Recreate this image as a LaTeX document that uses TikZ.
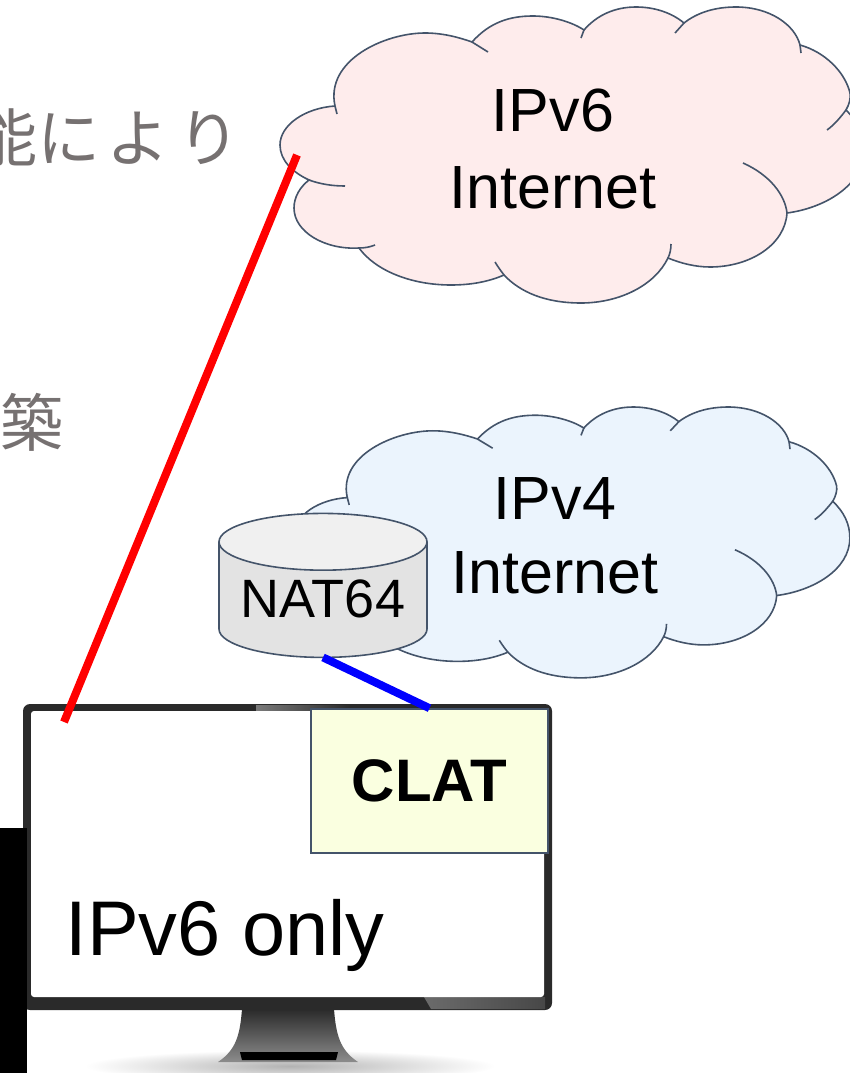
\documentclass[tikz,border=0pt]{standalone}
\usepackage{fontspec}
\setmainfont{Liberation Sans}
\newfontfamily\jpfont{Noto Sans CJK JP}
\usetikzlibrary{shapes.geometric}
\definecolor{rimblue}{HTML}{44546A}
\definecolor{cloudpink}{HTML}{FEECEC}
\definecolor{cloudblue}{HTML}{EBF4FD}
\definecolor{clatfill}{HTML}{FAFFE0}
\definecolor{jpgrey}{HTML}{767171}
\definecolor{bezel}{HTML}{2A2A2A}
\newcommand{\fsz}[1]{\fontsize{#1}{#1}\selectfont}
\newcommand{\cloudrim}[1]{%
  \filldraw [rim, fill=#1] (335,106) .. controls (325,60) and (385,33) .. (425,33)
    .. controls (442,33) and (458,37) .. (472,42)
    .. controls (490,22) and (510,16) .. (533,16) .. controls (552,16) and (572,22) .. (584,30)
    .. controls (597,15) and (615,7) .. (636,7) .. controls (655,7) and (672,13) .. (684,23)
    .. controls (698,12) and (716,7) .. (736,7) .. controls (770,7) and (795,25) .. (800,45)
    .. controls (825,52) and (845,72) .. (850,93) .. controls (851,98) and (849,105) .. (846,110)
    .. controls (858,122) and (864,135) .. (864,150) .. controls (864,185) and (825,208) .. (787,213)
    .. controls (785,245) and (750,267) .. (710,267) .. controls (695,267) and (680,263) .. (668,258)
    .. controls (655,285) and (620,303) .. (581,303) .. controls (545,303) and (520,292) .. (504,275)
    .. controls (488,282) and (470,285) .. (451,285) .. controls (410,285) and (375,270) .. (359,248)
    .. controls (325,250) and (294,232) .. (294,208) .. controls (294,197) and (300,187) .. (309,180)
    .. controls (292,172) and (280,160) .. (280,145) .. controls (280,125) and (305,108) .. (335,106) -- cycle;
  \draw [rim] (335,106) -- (337,114);
  \draw [rim] (472,42) -- (488,52);
  \draw [rim] (584,30) -- (581,38);
  \draw [rim] (684,23) -- (675,33);
  \draw [rim] (800,45) -- (801,53);
  \draw [rim] (846,110) .. controls (840,118) and (834,125) .. (827,130);
  \draw [rim] (787,213) .. controls (785,195) and (770,175) .. (743,163);
  \draw [rim] (668,258) .. controls (670,254) and (671,249) .. (671,244);
  \draw [rim] (504,275) .. controls (501,271) and (498,267) .. (495,262);
  \draw [rim] (359,248) .. controls (365,248) and (370,247) .. (375,245);
  \draw [rim] (309,180) .. controls (320,184) and (332,186) .. (345,186);
}
\tikzset{
  rim/.style={draw=rimblue, line width=1.6pt},
  label/.style={inner sep=0pt, align=center, font=\fsz{61}, text=black},
  jptext/.style={inner sep=0pt, anchor=base east, text=jpgrey, font=\jpfont\fsz{63}},
  link/.style={line width=8pt},
}
\begin{document}
\begin{tikzpicture}[x=1pt, y=-1pt]
  \useasboundingbox (0,0) rectangle (850,1073);
  \node [jptext] (jpone) at (241,161) {能に\hspace{6pt}よ\hspace{8pt}り};
  \node [jptext] (jptwo) at (64,446) {構築};
  % clouds
  \cloudrim{cloudpink}
  \begin{scope}[shift={(29.05,400.6)}, xscale=.95, yscale=.915]
    \cloudrim{cloudblue}
  \end{scope}
  \node [label] (vsix) at (553,148.5) {IPv6\\[16pt]Internet};
  \node [label] (vfour) at (555,536) {IPv4\\[13.5pt]Internet};
  \node [cylinder, shape border rotate=90, aspect=.346, minimum width=208pt, minimum height=144pt,
    inner sep=0pt, outer sep=0pt, rim, cylinder uses custom fill,
    cylinder body fill=black!11, cylinder end fill=black!6, font=\fsz{54}] (nat) at (323,600) {\raisebox{3pt}{NAT64}};
  % monitor
  \shade [inner color=black!30, outer color=white] (290,1066) ellipse [x radius=205, y radius=16];
  \shade [top color=bezel, bottom color=black!45] (242,1009) -- (334,1009)
    .. controls (336,1035) and (340,1050) .. (358,1062) -- (218,1062)
    .. controls (236,1050) and (240,1035) .. (242,1009) -- cycle;
  \fill [black] (240,1052) -- (338,1052) -- (336,1060) -- (242,1060) -- cycle;
  \node [fill=bezel, rounded corners=7pt, minimum width=529pt, minimum height=306pt, inner sep=0pt] (monitor) at (287.5,857) {};
  \shade [left color=black!52, right color=bezel] (256,705) rectangle (350,711);
  \shade [left color=black!58, right color=black!72] (424,997) -- (545,997) -- (545,1009) -- (431,1009) -- cycle;
  \node [fill=white, rounded corners=3pt, minimum width=513pt, minimum height=286pt, inner sep=0pt] (screen) at (287.5,854) {};
  \node [rim, fill=clatfill, minimum width=237pt, minimum height=144pt, inner sep=0pt, font=\bfseries\fsz{60}] (clat) at (429.5,781) {\raisebox{-2pt}{CLAT}};
  \node [inner sep=0pt, anchor=base west, font=\fsz{77.5}] (only) at (65.5,955) {IPv6 only};
  \fill [black] (0,828) rectangle (27,1073);
  % links
  \coordinate (vsixend) at (297,155);
  \coordinate (monitorend) at (64,722);
  \draw [link, red] (monitorend) -- (vsixend);
  \draw [link, blue] (nat.south) -- (clat.north);
\end{tikzpicture}
\end{document}
